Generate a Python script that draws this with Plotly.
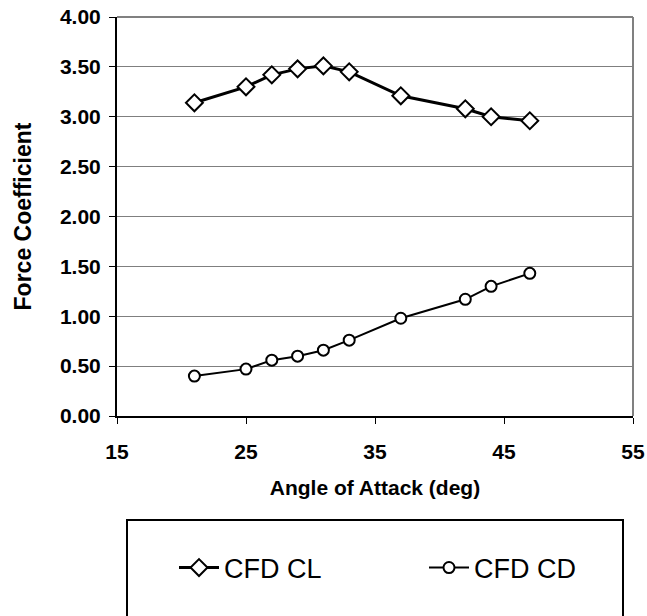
import plotly.graph_objects as go

# Data
angle_cl = [21, 25, 27, 29, 31, 33, 37, 42, 44, 47]
cfd_cl = [3.14, 3.30, 3.42, 3.48, 3.51, 3.45, 3.21, 3.08, 3.00, 2.96]
angle_cd = [21, 25, 27, 29, 31, 33, 37, 42, 44, 47]
cfd_cd = [0.40, 0.47, 0.56, 0.60, 0.66, 0.76, 0.98, 1.17, 1.30, 1.43]

x_ticks = [15, 25, 35, 45, 55]
y_ticks = [0, 0.5, 1.0, 1.5, 2.0, 2.5, 3.0, 3.5, 4.0]

FONT = "Liberation Sans"

fig = go.Figure()
fig.add_trace(go.Scatter(
    x=angle_cl, y=cfd_cl, name="CFD CL", mode="lines+markers",
    line=dict(color="black", width=3),
    marker=dict(symbol="diamond", size=13, color="white",
                line=dict(color="black", width=2)),
))
fig.add_trace(go.Scatter(
    x=angle_cd, y=cfd_cd, name="CFD CD", mode="lines+markers",
    line=dict(color="black", width=2),
    marker=dict(symbol="circle", size=11, color="white",
                line=dict(color="black", width=2)),
))

W, H = 647, 616
# desired plot area in page pixels (body margin removed via post_script)
PL, PR, PT, PB = 117, 633, 17, 416
L, T, R, B = PL, PT, W - PR, H - PB
pw = PR - PL
ph = PB - PT

def px_x(page_x):
    return (page_x - PL) / pw

def px_y(page_y):
    return (PB - page_y) / ph

shapes = [
    # grey frame top & right
    dict(type="line", xref="paper", yref="paper", x0=0, x1=1, y0=1, y1=1,
         line=dict(color="#808080", width=2), layer="below"),
    dict(type="line", xref="paper", yref="paper", x0=1, x1=1, y0=0, y1=1,
         line=dict(color="#808080", width=2), layer="below"),
    # legend box
    dict(type="rect", xref="paper", yref="paper",
         x0=px_x(127), x1=px_x(623), y0=px_y(640), y1=px_y(520),
         line=dict(color="black", width=2), fillcolor="rgba(0,0,0,0)"),
]

fig.update_layout(
    width=W, height=H,
    margin=dict(l=L, r=R, t=T, b=B, pad=0, autoexpand=False),
    paper_bgcolor="white", plot_bgcolor="white",
    font=dict(family=FONT, color="black"),
    showlegend=True,
    legend=dict(
        orientation="h", x=px_x(174), xanchor="left",
        y=px_y(568), yanchor="middle",
        font=dict(family=FONT, size=27, color="black"),
        bgcolor="rgba(0,0,0,0)", borderwidth=0,
        entrywidth=195, entrywidthmode="pixels",
        itemwidth=40,
    ),
    shapes=shapes,
    xaxis=dict(
        range=[15, 55], tickvals=x_ticks, ticktext=[str(v) for v in x_ticks],
        showgrid=False, zeroline=False, automargin=False,
        showline=True, linecolor="black", linewidth=2,
        ticks="outside", ticklen=6, tickwidth=1, tickcolor="black",
        tickfont=dict(family=FONT, size=21, color="black", weight="bold"),
        ticklabelstandoff=10, ticklabeloverflow="allow",
        title=dict(text="<b>Angle of Attack (deg)</b>",
                   font=dict(family=FONT, size=21, color="black"),
                   standoff=18),
    ),
    yaxis=dict(
        range=[0, 4], tickvals=y_ticks, ticktext=[f"{v:.2f}" for v in y_ticks],
        showgrid=True, gridcolor="#7f7f7f", gridwidth=1,
        zeroline=False, automargin=False,
        showline=True, linecolor="black", linewidth=2,
        ticks="outside", ticklen=6, tickwidth=1, tickcolor="black",
        tickfont=dict(family=FONT, size=21, color="black", weight="bold"),
        ticklabelstandoff=4, ticklabeloverflow="allow",
        title=dict(text="<b>Force Coefficient</b>",
                   font=dict(family=FONT, size=23, color="black"),
                   standoff=22),
    ),
)

fig.write_html(
    "out.html",
    config={"displayModeBar": False},
    post_script="document.body.style.margin='0';document.body.style.overflow='hidden';",
)
